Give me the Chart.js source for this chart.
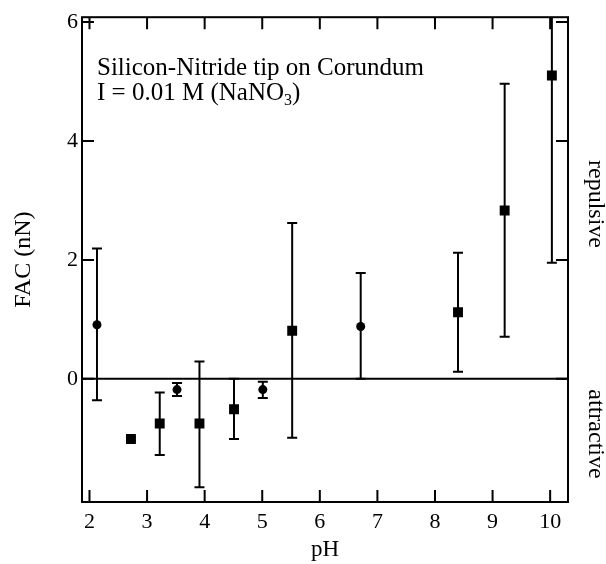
<!DOCTYPE html>
<html>
<head>
<meta charset="utf-8">
<script src="https://cdn.jsdelivr.net/npm/chart.js@4.4.0/dist/chart.umd.min.js"></script>
<style>
  html, body { margin: 0; padding: 0; background: #fff; }
  #wrap { width: 606px; height: 564px; }
</style>
</head>
<body>
<div id="wrap"><canvas id="myChart" width="606" height="564"></canvas></div>
<script>
// pH values and force (nN)
const circlePH = [2.13, 3.52, 5.01, 6.71];
const circleFAC = [0.91, -0.18, -0.18, 0.88];
const circleLow = [-0.36, -0.29, -0.32, 0.0];
const circleHigh = [2.19, -0.07, -0.05, 1.78];

const squarePH = [2.72, 3.22, 3.91, 4.51, 5.52, 8.40, 9.21, 10.03];
const squareFAC = [-1.01, -0.75, -0.75, -0.51, 0.81, 1.12, 2.83, 5.10];
const squareLow = [-1.04, -1.28, -1.82, -1.01, -0.99, 0.12, 0.71, 1.95];
const squareHigh = [-0.98, -0.23, 0.29, 0.0, 2.62, 2.12, 4.96, 8.25];

const xTicks = [2, 3, 4, 5, 6, 7, 8, 9, 10];
const yTicks = [0, 2, 4, 6];

const serif = "'Liberation Serif', 'DejaVu Serif', serif";

const toPoints = (xs, ys, lo, hi) => xs.map((x, i) => ({x: x, y: ys[i], lo: lo[i], hi: hi[i]}));

// error bars, inward ticks, frame and the text labels
const extras = {
  id: 'extras',
  beforeDatasetsDraw(chart) {
    const ctx = chart.ctx;
    const xs = chart.scales.x, ys = chart.scales.y;
    const a = chart.chartArea;
    ctx.save();
    ctx.strokeStyle = '#000';
    ctx.lineWidth = 2;
    ctx.lineCap = 'butt';

    // zero line
    const y0 = ys.getPixelForValue(0);
    ctx.beginPath();
    ctx.moveTo(a.left, y0);
    ctx.lineTo(a.right, y0);
    ctx.stroke();

    // error bars
    ctx.save();
    ctx.beginPath();
    ctx.rect(a.left, a.top, a.right - a.left, a.bottom - a.top);
    ctx.clip();
    chart.data.datasets.forEach(ds => {
      ds.data.forEach(p => {
        const px = xs.getPixelForValue(p.x);
        const pl = ys.getPixelForValue(p.lo);
        const ph = ys.getPixelForValue(p.hi);
        ctx.beginPath();
        ctx.moveTo(px, pl); ctx.lineTo(px, ph);
        ctx.moveTo(px - 5, pl); ctx.lineTo(px + 5, pl);
        ctx.moveTo(px - 5, ph); ctx.lineTo(px + 5, ph);
        ctx.stroke();
      });
    });
    ctx.restore();

    // inward ticks
    const tl = 12;
    ctx.beginPath();
    xTicks.forEach(v => {
      const px = xs.getPixelForValue(v);
      ctx.moveTo(px, a.bottom); ctx.lineTo(px, a.bottom - tl);
      ctx.moveTo(px, a.top); ctx.lineTo(px, a.top + tl);
    });
    yTicks.forEach(v => {
      const py = ys.getPixelForValue(v);
      ctx.moveTo(a.left, py); ctx.lineTo(a.left + tl, py);
      ctx.moveTo(a.right, py); ctx.lineTo(a.right - tl, py);
    });
    ctx.stroke();

    // frame
    ctx.strokeRect(a.left, a.top, a.right - a.left, a.bottom - a.top);

    // annotation
    ctx.fillStyle = '#000';
    ctx.textAlign = 'left';
    ctx.textBaseline = 'alphabetic';
    ctx.font = '25px ' + serif;
    ctx.fillText('Silicon-Nitride tip on Corundum', 97, 75);
    const line2 = 'I = 0.01 M (NaNO';
    ctx.fillText(line2, 97, 100);
    let w = ctx.measureText(line2).width;
    ctx.font = '16px ' + serif;
    ctx.fillText('3', 97 + w, 105);
    const w3 = ctx.measureText('3').width;
    ctx.font = '25px ' + serif;
    ctx.fillText(')', 97 + w + w3, 100);

    // side labels
    ctx.font = '24px ' + serif;
    ctx.textAlign = 'center';
    ctx.textBaseline = 'middle';
    [['repulsive', 204], ['attractive', 434]].forEach(([t, cy]) => {
      ctx.save();
      ctx.translate(595, cy);
      ctx.rotate(Math.PI / 2);
      ctx.fillText(t, 0, 0);
      ctx.restore();
    });
    ctx.restore();
  }
};

const ctx = document.getElementById('myChart');
new Chart(ctx, {
  type: 'scatter',
  data: {
    datasets: [
      {label: 'circles', data: toPoints(circlePH, circleFAC, circleLow, circleHigh),
       pointStyle: 'circle', pointRadius: 4.5, backgroundColor: '#000', borderColor: '#000', borderWidth: 0},
      {label: 'squares', data: toPoints(squarePH, squareFAC, squareLow, squareHigh),
       pointStyle: 'rect', pointRadius: 7, backgroundColor: '#000', borderColor: '#000', borderWidth: 0}
    ]
  },
  options: {
    responsive: false,
    animation: false,
    layout: {padding: {left: 0, right: 38, top: 15, bottom: 0}},
    plugins: {legend: {display: false}, tooltip: {enabled: false}},
    scales: {
      x: {
        type: 'linear', min: 1.87, max: 10.31,
        afterBuildTicks: s => { s.ticks = xTicks.map(v => ({value: v})); },
        afterFit: s => { s.height = 62; },
        grid: {display: false, drawTicks: false},
        border: {display: false},
        ticks: {color: '#000', font: {family: serif, size: 22}, padding: 7, maxRotation: 0},
        title: {display: true, text: 'pH', color: '#000', font: {family: serif, size: 23}, padding: {top: 0, bottom: 0}}
      },
      y: {
        type: 'linear', min: -2.07, max: 6.08,
        afterBuildTicks: s => { s.ticks = yTicks.map(v => ({value: v})); },
        afterFit: s => { s.width = 82; },
        grid: {display: false, drawTicks: false},
        border: {display: false},
        ticks: {color: '#000', font: {family: serif, size: 22}, padding: 4},
        title: {display: true, text: 'FAC (nN)', color: '#000', font: {family: serif, size: 24}, padding: {top: 9, bottom: 0}}
      }
    }
  },
  plugins: [extras]
});
</script>
</body>
</html>
